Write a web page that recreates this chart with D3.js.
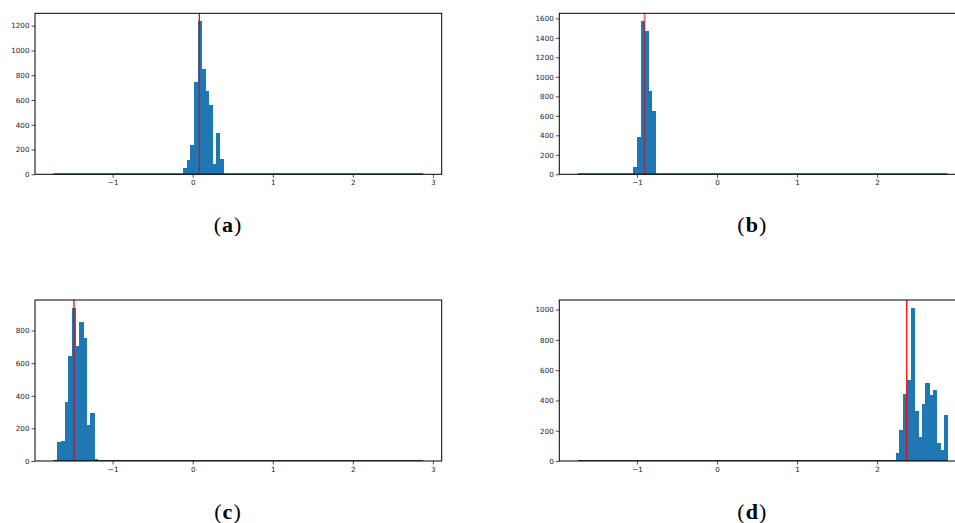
<!DOCTYPE html>
<html>
<head>
<meta charset="utf-8">
<script src="https://cdn.jsdelivr.net/npm/d3@7"></script>
<style>
  body { margin: 0; background: #fff; }
  svg { display: block; }
</style>
</head>
<body>
<svg id="chart" width="955" height="523"></svg>
<script>
// histogram binning shared by all four panels
const binLo = -1.739;
const binHi = 2.879;
const nBins = 100;

// first non-empty bin index and counts for each panel
const startA = 35;
const countsA = [51, 116, 237, 745, 1238, 850, 675, 560, 83, 334, 124];
const startB = 15;
const countsB = [75, 386, 1573, 1470, 858, 650];
const startC = 1;
const countsC = [114, 122, 360, 641, 940, 702, 855, 751, 220, 293, 12];
const startD = 86;
const countsD = [55, 204, 441, 533, 1013, 329, 159, 375, 513, 435, 468, 120, 72, 303];

// red vertical marker for each panel
const means = [0.083, -0.905, -1.484, 2.37];
const labels = ["a", "b", "c", "d"];
const xTicks = [-1, 0, 1, 2, 3];

const svg = d3.select("#chart");
const svgW = 955;
const binW = (binHi - binLo) / nBins;
const pad = 0.05 * (binHi - binLo);

const panels = [
    { start: startA, counts: countsA, left: 35, top: 13.3 },
    { start: startB, counts: countsB, left: 559.3, top: 13.3 },
    { start: startC, counts: countsC, left: 35, top: 300 },
    { start: startD, counts: countsD, left: 559.3, top: 300 }
];
const lineStyle = [
    { w: 1.3, op: 1 },
    { w: 2, op: 0.55 },
    { w: 1.6, op: 0.8 },
    { w: 1.3, op: 1 }
];
const width = 406.7;
const height = 161;

panels.forEach((p, i) => {
    const bins = p.counts.map((c, k) => ({
        x0: binLo + (p.start + k) * binW,
        x1: binLo + (p.start + k + 1) * binW,
        count: c
    }));
    const ymax = d3.max(p.counts) * 1.05;

    const x = d3.scaleLinear()
        .domain([binLo - pad, binHi + pad])
        .range([0, width]);
    const y = d3.scaleLinear()
        .domain([0, ymax])
        .range([height, 0]);

    const g = svg.append("g")
        .attr("transform", `translate(${p.left}, ${p.top})`);

    g.selectAll("rect.bar")
        .data(bins)
        .enter()
        .append("rect")
        .attr("class", "bar")
        .attr("x", d => x(d.x0))
        .attr("y", d => y(d.count))
        .attr("width", d => x(d.x1) - x(d.x0) + 0.6)
        .attr("height", d => y(0) - y(d.count))
        .attr("fill", "#1f77b4")
        .attr("shape-rendering", "crispEdges");

    // empty bins show up as a thin line along zero
    g.append("line")
        .attr("x1", x(binLo))
        .attr("x2", x(binHi))
        .attr("y1", y(0) - 0.5)
        .attr("y2", y(0) - 0.5)
        .attr("stroke", "#1f4e79")
        .attr("stroke-width", 1.2);

    g.append("line")
        .attr("x1", x(means[i]))
        .attr("x2", x(means[i]))
        .attr("y1", 0)
        .attr("y2", height)
        .attr("stroke", "red")
        .attr("stroke-opacity", lineStyle[i].op)
        .attr("stroke-width", lineStyle[i].w);

    // the right-hand panels are cropped at the page edge
    const shownTicks = xTicks.filter(t => p.left + x(t) < svgW - 3);

    const xAxis = g.append("g")
        .attr("transform", `translate(0,${height})`)
        .call(d3.axisBottom(x)
            .tickValues(shownTicks)
            .tickSize(3.5)
            .tickPadding(2)
            .tickFormat(d => d < 0 ? "\u2212" + Math.abs(d) : d));
    xAxis.select(".domain").remove();

    const yAxis = g.append("g")
        .call(d3.axisLeft(y)
            .tickValues(d3.range(0, ymax, 200))
            .tickSize(3.5)
            .tickPadding(2)
            .tickFormat(d3.format("d")));
    yAxis.select(".domain").remove();

    [xAxis, yAxis].forEach(a => {
        a.selectAll("text")
            .style("font-family", "DejaVu Sans")
            .style("font-size", "7.2px")
            .attr("fill", "#222");
        a.selectAll("line").attr("stroke", "#222").attr("stroke-width", 0.8);
    });

    g.append("rect")
        .attr("width", width)
        .attr("height", height)
        .attr("fill", "none")
        .attr("stroke", "#000")
        .attr("stroke-width", 1);

    const cap = svg.append("text")
        .attr("x", p.left + 193)
        .attr("y", p.top + 218.7)
        .attr("text-anchor", "middle")
        .style("font-family", "Liberation Serif")
        .style("font-size", "22px")
        .style("letter-spacing", "1px")
        .attr("fill", "#000");
    cap.append("tspan").text("(");
    cap.append("tspan").style("font-weight", "bold").text(labels[i]);
    cap.append("tspan").text(")");
});
</script>
</body>
</html>
